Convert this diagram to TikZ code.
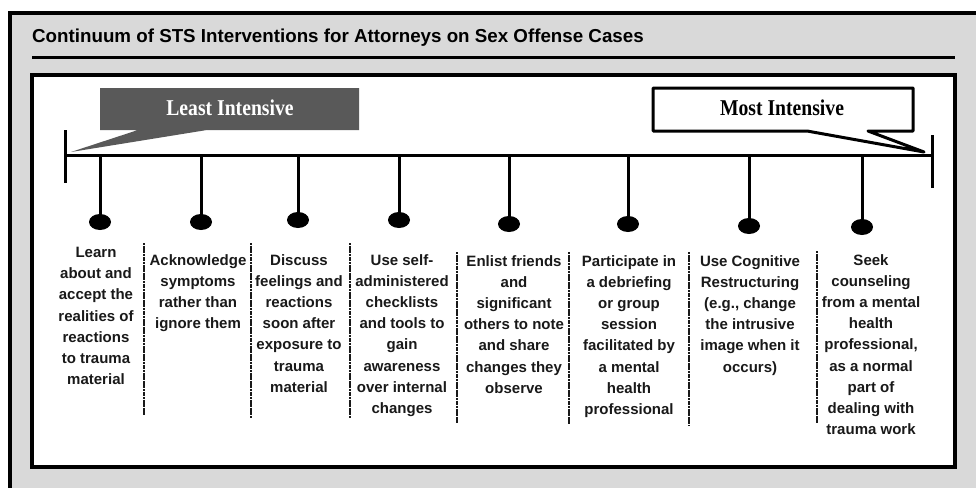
\documentclass[tikz,border=0pt]{standalone}
\usepackage{fontspec}
\setmainfont{Liberation Sans}
\newfontfamily\callfont{Liberation Serif}[FakeStretch=0.87]
\usetikzlibrary{shapes.geometric}
\definecolor{panelgray}{HTML}{D9D9D9}
\definecolor{leastgray}{HTML}{595959}
\begin{document}
\begin{tikzpicture}[x=1pt,y=-1pt,
  coltext/.style={anchor=north, align=center, inner sep=0pt, font=\fontsize{15}{21.2}\selectfont\bfseries, text=black!90},
  dotnode/.style={ellipse, fill=black, minimum width=22pt, minimum height=16pt, inner sep=0pt},
  sepline/.style={line width=2pt, dash pattern=on 2.2pt off 0.5pt, black!90},
  stem/.style={line width=3pt},
  calltext/.style={font=\fontsize{22.6}{24}\selectfont\callfont\bfseries, inner sep=0pt}]
\useasboundingbox (0,0) rectangle (976,487);
\clip (0,0) rectangle (976,487);
\fill[white] (0,0) rectangle (976,487);
% outer panel
\draw[line width=4pt, fill=panelgray] (10,13.5) rectangle (1000,510);
\node[anchor=west, font=\fontsize{18.75}{20}\selectfont\bfseries, inner sep=0pt] (title) at (32,38) {Continuum of STS Interventions for Attorneys on Sex Offense Cases};
\draw[line width=3pt] (32,58) -- (955,58);
% inner box
\draw[line width=4.5pt, fill=white] (32,75) rectangle (955,467);
% callouts
\fill[leastgray] (100,88) -- (359,88) -- (359,130) -- (207,130) -- (71,152) -- (138,130) -- (100,130) -- cycle;
\node[calltext, text=white] (least) at (230,108) {Least Intensive};
\draw[line width=3pt, fill=white, line join=round] (653,88) -- (913,88) -- (913,131) -- (868,131) -- (924,152) -- (807,131) -- (653,131) -- cycle;
\node[calltext] (most) at (782,108) {Most Intensive};
% timeline
\coordinate (tl) at (65,155);
\coordinate (tr) at (932,155);
\draw[line width=3pt] (tl) -- (tr);
\draw[line width=3pt] (65,130) -- (65,183);
\draw[line width=3pt] (932,135) -- (932,188);
% stems and dots
\foreach \i/\x/\y in {1/100/222, 2/201/222, 3/298/220, 4/399/220, 5/509/224, 6/628/224, 7/749/226, 8/862/227}{
  \coordinate (s\i) at (\x,155);
  \node[dotnode] (d\i) at (\x,\y) {};
  \draw[stem] (s\i) -- (d\i.center);
}
% separators
\foreach \x/\a/\b in {144/243/415, 251/243/418, 350/243/418, 457/252/423, 569/252/424, 689/252/425, 817/251/423}{
  \draw[sepline] (\x,\a) -- (\x,\b);
}
% column texts
\node[coltext] (c1) at (96,247) {Learn\\about and\\accept the\\realities of\\reactions\\to trauma\\material};
\node[coltext] (c2) at (198,254) {Acknowledge\\symptoms\\rather than\\ignore them};
\node[coltext] (c3) at (299,254) {Discuss\\feelings and\\reactions\\soon after\\exposure to\\trauma\\material};
\node[coltext] (c4) at (402,254) {Use self-\\administered\\checklists\\and tools to\\gain\\awareness\\over internal\\changes};
\node[coltext] (c5) at (514,255) {Enlist friends\\and\\significant\\others to note\\and share\\changes they\\observe};
\node[coltext] (c6) at (629,255) {Participate in\\a debriefing\\or group\\session\\facilitated by\\a mental\\health\\professional};
\node[coltext] (c7) at (750,255) {Use Cognitive\\Restructuring\\(e.g., change\\the intrusive\\image when it\\occurs)};
\node[coltext] (c8) at (871,254) {Seek\\counseling\\from a mental\\health\\professional,\\as a normal\\part of\\dealing with\\trauma work};
\end{tikzpicture}
\end{document}
